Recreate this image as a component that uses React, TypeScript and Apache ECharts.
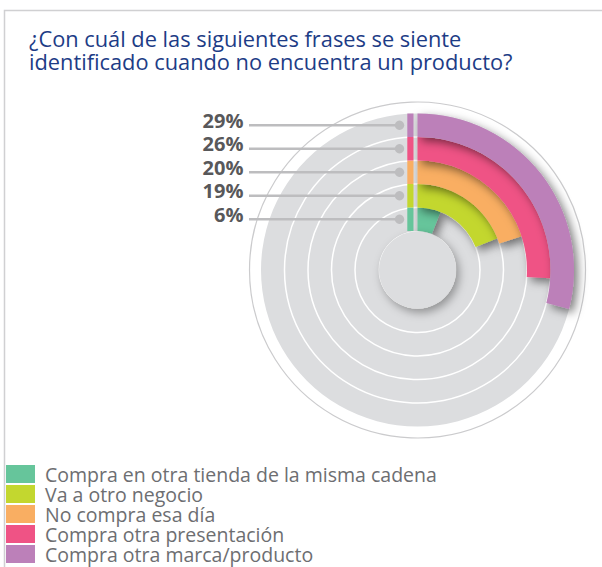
import React, { useEffect, useRef } from "react";
import * as echarts from "echarts";

const CATEGORIES = [
  "Compra en otra tienda de la misma cadena",
  "Va a otro negocio",
  "No compra esa día",
  "Compra otra presentación",
  "Compra otra marca/producto",
];
const VALUES = [6, 19, 20, 26, 29];
const COLORS = ["#66c59b", "#c3d72f", "#f9ae62", "#ef5385", "#bc80b9"];

const CX = 417.5;
const CY = 270;
const R_IN = 39;
const R_OUT = 156.5;
const TITLE = "¿Con cuál de las siguientes frases se siente\nidentificado cuando no encuentra un producto?";

export default function App() {
  const ref = useRef<HTMLDivElement>(null);
  useEffect(() => {
    if (!ref.current) return;
    const chart = echarts.init(ref.current, null, { renderer: "svg" });
    const bw = (R_OUT - R_IN) / CATEGORIES.length;
    const barSeries = CATEGORIES.map((name, i) => ({
      type: "bar",
      name,
      coordinateSystem: "polar",
      stack: "all",
      barCategoryGap: "0%",
      data: VALUES.map((v, j) => (j === i ? v : "-")),
      itemStyle: {
        color: COLORS[i],
        shadowBlur: 10,
        shadowColor: "rgba(0,0,0,0.5)",
        shadowOffsetX: 4,
        shadowOffsetY: 4,
      },
      silent: true,
      z: 3,
    }));
    chart.setOption({
      animation: false,
      title: {
        text: TITLE,
        left: 29,
        top: 27,
        padding: 0,
        textStyle: {
          fontFamily: "Open Sans",
          fontSize: 21.8,
          fontWeight: "normal",
          lineHeight: 23,
          color: "#1d3c86",
        },
      },
      legend: {
        orient: "vertical",
        left: 6,
        top: 464,
        padding: 0,
        icon: "rect",
        itemWidth: 29,
        itemHeight: 18,
        itemGap: 0,
        data: CATEGORIES,
        textStyle: {
          fontFamily: "Open Sans",
          fontSize: 19.5,
          lineHeight: 20,
          color: "#6d6e71",
          padding: [0, 0, 0, 5],
        },
        selectedMode: false,
      },
      graphic: [
        {
          type: "rect",
          shape: { x: 4.5, y: 10.5, width: 700, height: 700 },
          style: { fill: "none", stroke: "#d0d0d2", lineWidth: 1.5 },
          silent: true,
        },
        {
          type: "circle",
          shape: { cx: CX, cy: CY, r: 168 },
          style: { fill: "none", stroke: "#cbcbcd", lineWidth: 1.2 },
          silent: true,
          z: -1,
        },
      ],
      polar: { center: [CX, CY], radius: [R_IN, R_OUT] },
      angleAxis: {
        type: "value",
        min: 0,
        max: 100,
        startAngle: 90,
        clockwise: true,
        axisLine: { show: false },
        axisTick: { show: false },
        axisLabel: { show: false },
        splitLine: { show: false },
      },
      radiusAxis: {
        type: "category",
        data: CATEGORIES,
        axisLine: { show: false },
        axisTick: { show: false },
        axisLabel: { show: false },
        splitLine: { show: false },
        splitArea: { show: true, areaStyle: { color: ["#dcdddf"] } },
      },
      series: [
        {
          type: "custom",
          coordinateSystem: "polar",
          silent: true,
          z: 2,
          data: VALUES.map((v, i) => [i, 0]),
          renderItem: (params: any, api: any) => {
            const idx = api.value(0);
            const p = api.coord([idx, 0]);
            const cs = params.coordSys;
            const r = Math.hypot(p[0] - cs.cx, p[1] - cs.cy) + bw / 2;
            if (idx === CATEGORIES.length - 1) return { type: "group", children: [] };
            return {
              type: "circle",
              shape: { cx: cs.cx, cy: cs.cy, r },
              style: { fill: "none", stroke: "#ffffff", lineWidth: 1.5 },
            };
          },
        },
        ...barSeries,
        {
          type: "pie",
          center: [CX, CY],
          radius: [0, 38.5],
          silent: true,
          label: { show: false },
          labelLine: { show: false },
          data: [{ value: 1, name: "centro" }],
          itemStyle: {
            color: "#dcdddf",
            shadowBlur: 10,
            shadowColor: "rgba(0,0,0,0.35)",
            shadowOffsetX: 3,
            shadowOffsetY: 4,
          },
          z: 4,
        },
        {
          type: "custom",
          coordinateSystem: "polar",
          silent: true,
          z: 5,
          data: VALUES.map((v, i) => [i, 0, v]),
          renderItem: (params: any, api: any) => {
            const idx = api.value(0);
            const p = api.coord([idx, 0]);
            const x = p[0];
            const y = p[1];
            return {
              type: "group",
              children: [
                {
                  type: "rect",
                  shape: { x: x - 10.2, y: y - bw / 2, width: 6.2, height: bw },
                  style: { fill: COLORS[idx] },
                },
                {
                  type: "line",
                  shape: { x1: x - 168.5, y1: y, x2: x - 18, y2: y },
                  style: { stroke: "#bdbdbf", lineWidth: 2.5 },
                },
                {
                  type: "circle",
                  shape: { cx: x - 18, cy: y, r: 4.7 },
                  style: { fill: "#bdbdbf" },
                },
                {
                  type: "text",
                  x: x - 174,
                  y: y - 5,
                  style: {
                    text: api.value(2) + "%",
                    align: "right",
                    verticalAlign: "middle",
                    font: "bold 20px 'Open Sans'",
                    fill: "#58585a",
                  },
                },
              ],
            };
          },
        },
      ],
    });
    return () => chart.dispose();
  }, []);
  return (
    <div
      ref={ref}
      style={{ position: "fixed", left: 0, top: 0, width: 602, height: 567, background: "#fff" }}
    />
  );
}
